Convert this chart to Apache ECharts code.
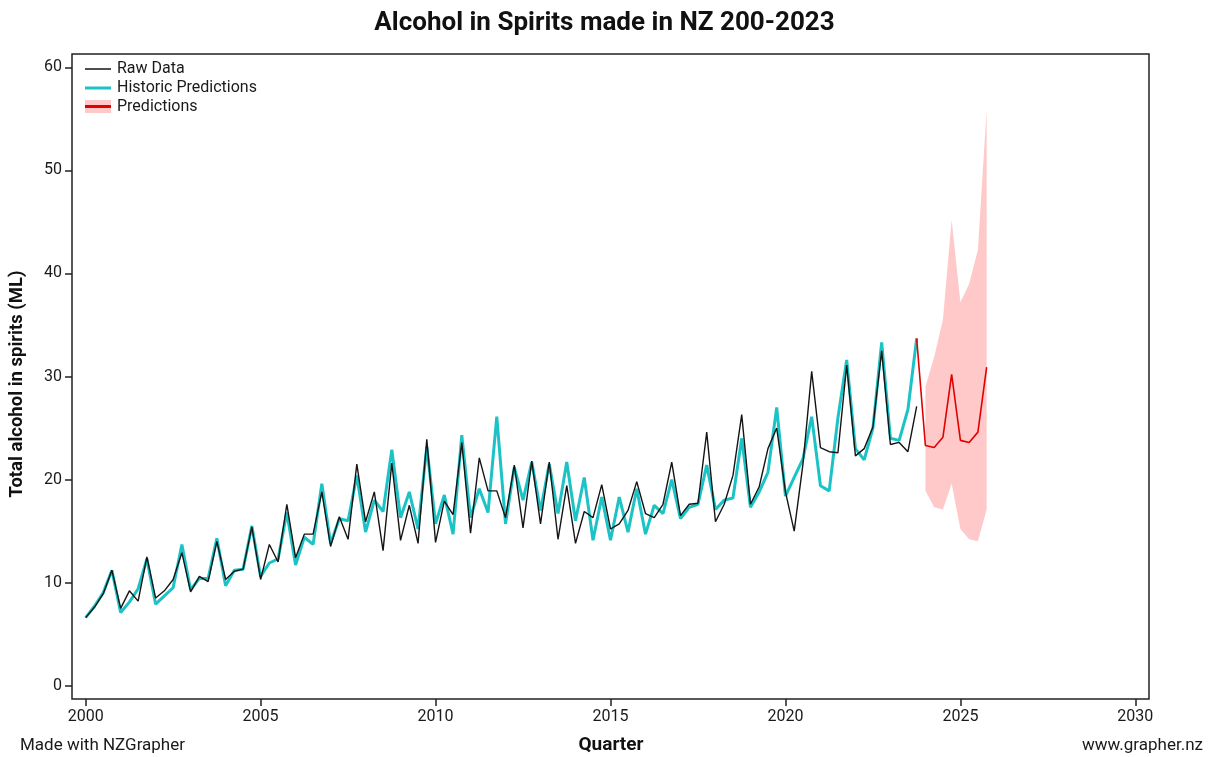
<!DOCTYPE html>
<html>
<head>
<meta charset="utf-8">
<title>Alcohol in Spirits made in NZ 200-2023</title>
<script src="https://cdn.jsdelivr.net/npm/echarts@6/dist/echarts.min.js"></script>
<style>
  html, body { margin: 0; padding: 0; background: #fff; }
  #chart { width: 1209px; height: 757px; }
</style>
</head>
<body>
<div id="chart"></div>
<script>
// Quarterly series, first value is 2000 Q1
const startYear = 2000;

// Total alcohol in spirits (ML), recorded
const rawData = [
  6.6, 7.6, 8.9, 11.2, 7.5, 9.2, 8.2, 12.5, 8.5, 9.2, 10.3, 12.9,
  9.1, 10.6, 10.1, 14.0, 10.3, 11.1, 11.3, 15.4, 10.3, 13.7, 12.0, 17.6,
  12.4, 14.7, 14.7, 18.8, 13.5, 16.4, 14.2, 21.5, 15.9, 18.8, 13.1, 21.6,
  14.1, 17.5, 13.8, 23.9, 13.9, 17.9, 16.6, 23.6, 14.8, 22.1, 18.9, 18.9,
  16.3, 21.4, 15.3, 21.8, 15.7, 21.7, 14.2, 19.4, 13.8, 16.9, 16.3, 19.5,
  15.2, 15.7, 17.0, 19.8, 16.7, 16.3, 17.6, 21.7, 16.5, 17.6, 17.7, 24.6,
  15.9, 17.6, 20.4, 26.3, 17.6, 19.3, 23.0, 25.0, 18.8, 15.0, 21.5, 30.5,
  23.1, 22.7, 22.6, 31.1, 22.3, 23.0, 25.1, 32.5, 23.4, 23.6, 22.7, 27.1
];

// Model fitted values over the same quarters
const historicPredictions = [
  6.6, 7.7, 9.0, 11.2, 7.1, 8.1, 9.4, 12.3, 7.9, 8.7, 9.5, 13.7,
  9.3, 10.4, 10.4, 14.3, 9.7, 11.2, 11.3, 15.5, 10.6, 11.9, 12.3, 16.8,
  11.7, 14.4, 13.7, 19.6, 13.8, 16.2, 16.0, 20.4, 14.9, 18.0, 16.9, 22.9,
  16.3, 18.8, 15.2, 23.2, 15.7, 18.5, 14.7, 24.3, 16.3, 19.1, 16.8, 26.1,
  15.7, 21.2, 18.0, 21.7, 17.0, 21.5, 16.7, 21.7, 16.0, 20.2, 14.1, 18.3,
  14.1, 18.3, 14.9, 19.1, 14.7, 17.5, 16.7, 20.0, 16.2, 17.3, 17.6, 21.4,
  17.1, 18.0, 18.2, 24.0, 17.3, 18.8, 20.7, 27.0, 18.4, 20.2, 22.0, 26.1,
  19.4, 18.9, 26.0, 31.6, 23.0, 21.9, 25.0, 33.3, 24.0, 23.8, 26.8, 33.7
];

// Forecast, 2024 Q1 to 2025 Q4, with interval bounds
const predictions     = [23.3, 23.1, 24.1, 30.2, 23.8, 23.6, 24.6, 30.9];
const predictionLower = [18.9, 17.3, 17.1, 19.6, 15.2, 14.2, 14.0, 17.1];
const predictionUpper = [29.0, 31.9, 35.5, 45.2, 37.2, 39.0, 42.3, 55.9];

const xTicks = [2000, 2005, 2010, 2015, 2020, 2025, 2030];
const yTicks = [0, 10, 20, 30, 40, 50, 60];

const quarterPos = i => startYear + i * 0.25;
const rawPts = rawData.map((v, i) => [quarterPos(i), v]);
const histPts = historicPredictions.map((v, i) => [quarterPos(i), v]);
const firstForecast = rawData.length;
// forecast line joins on from the last fitted value
const predPts = [[quarterPos(firstForecast - 1), historicPredictions[historicPredictions.length - 1]]]
  .concat(predictions.map((v, k) => [quarterPos(firstForecast + k), v]));
const bandPts = predictions.map((v, k) => [quarterPos(firstForecast + k), predictionLower[k], predictionUpper[k]]);

const FONT = 'Roboto, "Noto Sans", sans-serif';
const INK = '#1a1a1a';
const RAW_COLOR = '#141414';
const HIST_COLOR = '#1cc3c6';
const PRED_COLOR = '#e30000';
const BAND_COLOR = '#ffc9c9';

const chart = echarts.init(document.getElementById('chart'), null, { renderer: 'canvas' });

chart.setOption({
  animation: false,
  backgroundColor: '#fff',
  textStyle: { fontFamily: FONT },
  title: {
    text: 'Alcohol in Spirits made in NZ 200-2023',
    left: 'center',
    top: 5,
    textStyle: { fontFamily: FONT, fontSize: 26, fontWeight: 'bold', color: '#111' }
  },
  grid: {
    left: 72, right: 60, top: 54, bottom: 58,
    show: true, borderColor: '#222', borderWidth: 1.5, backgroundColor: 'transparent'
  },
  xAxis: {
    type: 'value',
    min: 1999.61, max: 2030.39,
    axisLine: { show: false, onZero: false },
    splitLine: { show: false },
    axisTick: { show: true, length: 7, customValues: xTicks, lineStyle: { color: '#222', width: 1.5 } },
    axisLabel: { customValues: xTicks, fontSize: 16, color: INK, margin: 10, fontFamily: FONT,
      formatter: v => String(v) }
  },
  yAxis: {
    type: 'value',
    min: -1.3, max: 61.3,
    axisLine: { show: false, onZero: false },
    splitLine: { show: false },
    axisTick: { show: true, length: 7, customValues: yTicks, lineStyle: { color: '#222', width: 1.5 } },
    axisLabel: { customValues: yTicks, fontSize: 16, color: INK, margin: 10, fontFamily: FONT }
  },
  series: [
    {
      name: 'Prediction interval',
      type: 'custom',
      data: bandPts,
      encode: { x: 0, y: [1, 2] },
      z: 1,
      renderItem: function (params, api) {
        if (params.dataIndex !== 0) return null;
        const upper = bandPts.map(p => api.coord([p[0], p[2]]));
        const lower = bandPts.map(p => api.coord([p[0], p[1]])).reverse();
        return {
          type: 'polygon',
          shape: { points: upper.concat(lower) },
          style: { fill: BAND_COLOR }
        };
      }
    },
    {
      name: 'Historic Predictions',
      type: 'line',
      data: histPts,
      showSymbol: false,
      z: 2,
      lineStyle: { color: HIST_COLOR, width: 3 }
    },
    {
      name: 'Predictions',
      type: 'line',
      data: predPts,
      showSymbol: false,
      z: 3,
      lineStyle: { color: PRED_COLOR, width: 1.6 }
    },
    {
      name: 'Raw Data',
      type: 'line',
      data: rawPts,
      showSymbol: false,
      z: 4,
      lineStyle: { color: RAW_COLOR, width: 1.4 }
    }
  ],
  graphic: [
    // legend keys
    { type: 'line', shape: { x1: 85, y1: 69, x2: 111, y2: 69 }, style: { stroke: RAW_COLOR, lineWidth: 1.5 } },
    { type: 'line', shape: { x1: 85, y1: 88, x2: 111, y2: 88 }, style: { stroke: HIST_COLOR, lineWidth: 3 } },
    { type: 'rect', shape: { x: 85, y: 100, width: 26, height: 13 }, style: { fill: BAND_COLOR } },
    { type: 'line', shape: { x1: 85, y1: 106.5, x2: 111, y2: 106.5 }, style: { stroke: PRED_COLOR, lineWidth: 3 } },
    { type: 'text', x: 117, y: 69, style: { text: 'Raw Data', fill: INK, font: '16px ' + FONT, textVerticalAlign: 'middle' } },
    { type: 'text', x: 117, y: 88, style: { text: 'Historic Predictions', fill: INK, font: '16px ' + FONT, textVerticalAlign: 'middle' } },
    { type: 'text', x: 117, y: 107, style: { text: 'Predictions', fill: INK, font: '16px ' + FONT, textVerticalAlign: 'middle' } },
    // axis titles
    { type: 'text', x: 611, y: 745, style: { text: 'Quarter', fill: '#111', font: 'bold 19px ' + FONT, textAlign: 'center', textVerticalAlign: 'middle' } },
    { type: 'text', x: 17, y: 384, rotation: Math.PI / 2,
      style: { text: 'Total alcohol in spirits (ML)', fill: '#111', font: 'bold 18.5px ' + FONT, textAlign: 'center', textVerticalAlign: 'middle' } },
    // credits
    { type: 'text', x: 20, y: 746, style: { text: 'Made with NZGrapher', fill: INK, font: '17px ' + FONT, textVerticalAlign: 'middle' } },
    { type: 'text', x: 1203, y: 746, style: { text: 'www.grapher.nz', fill: INK, font: '17px ' + FONT, textAlign: 'right', textVerticalAlign: 'middle' } }
  ]
});
</script>
</body>
</html>
